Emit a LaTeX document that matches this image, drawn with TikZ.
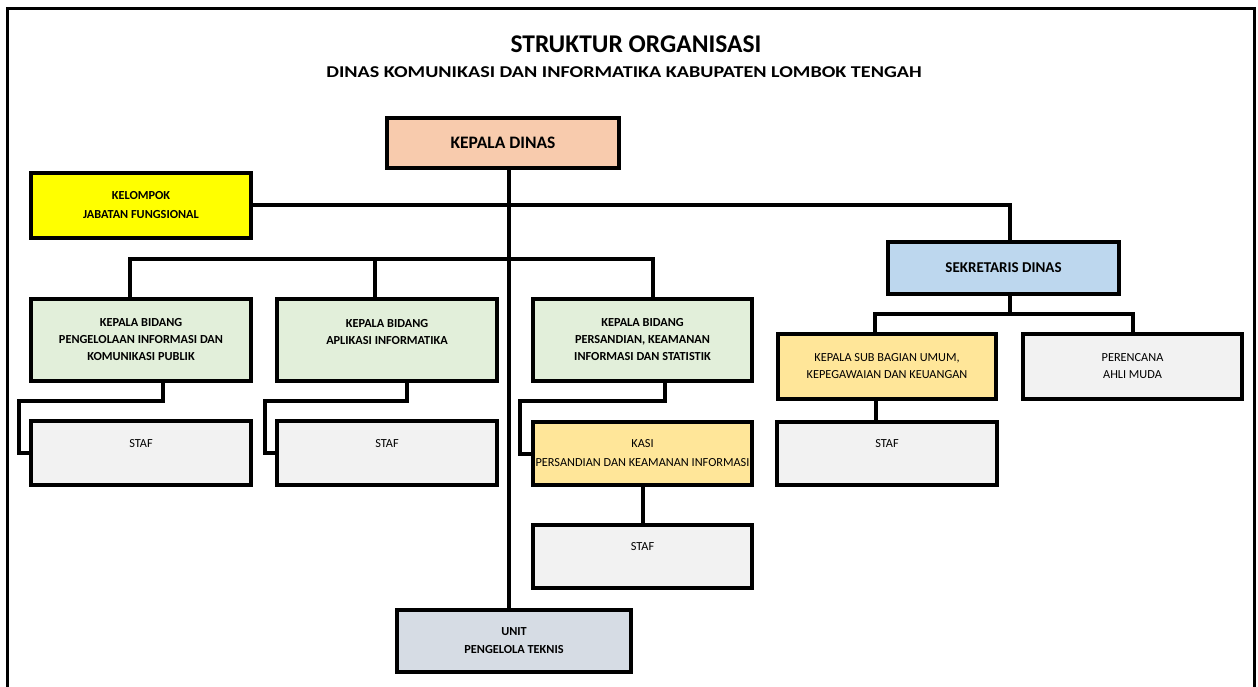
\documentclass[tikz,border=0pt]{standalone}
\usepackage{fontspec}
\setmainfont{Carlito}
\newfontfamily\widefont[FakeStretch=1.22]{Carlito}
\definecolor{kdc}{HTML}{F8CBAD}
\definecolor{kelc}{HTML}{FFFF00}
\definecolor{sekc}{HTML}{BDD7EE}
\definecolor{bidc}{HTML}{E2EFDA}
\definecolor{stfc}{HTML}{F2F2F2}
\definecolor{kasc}{HTML}{FFE699}
\definecolor{unic}{HTML}{D6DCE4}
\begin{document}
\begin{tikzpicture}[x=1pt,y=-1pt,
  bx/.style={draw=black,line width=4pt,inner sep=0pt,align=center,text=black},
  con/.style={draw=black,line width=4pt,line join=miter},
  fb/.style={font=\fontsize{12.3}{#1}\selectfont\bfseries},
  fr/.style={font=\fontsize{12.3}{#1}\selectfont},
  wide/.style={minimum width=220pt},
]
\useasboundingbox (0,0) rectangle (1258,687);
\draw[line width=3pt] (7,700) -- (7,9) -- (1254,9) -- (1254,700);

\node[font=\fontsize{25.5}{28}\selectfont\bfseries] (title) at (636,44) {STRUKTUR ORGANISASI};
\node[font=\widefont\fontsize{16.5}{20}\selectfont\bfseries] (subtitle) at (624,72) {DINAS KOMUNIKASI DAN INFORMATIKA KABUPATEN LOMBOK TENGAH};

\node[bx,fill=kdc,minimum width=232pt,minimum height=50pt,font=\fontsize{17.5}{20}\selectfont\bfseries] (kd) at (503,143) {KEPALA DINAS};
\node[bx,fill=kelc,wide,minimum height=65pt,fb=19] (kel) at (141,205.5) {KELOMPOK\\JABATAN FUNGSIONAL};
\node[bx,fill=sekc,minimum width=231pt,minimum height=52pt,font=\fontsize{15}{18}\selectfont\bfseries] (sek) at (1003.5,268) {SEKRETARIS DINAS};

\node[bx,fill=bidc,wide,minimum height=82pt,fb=17] (b1) at (141,340) {KEPALA BIDANG\\PENGELOLAAN INFORMASI DAN\\KOMUNIKASI PUBLIK};
\node[bx,fill=bidc,wide,minimum height=82pt,fb=17] (b2) at (387,340) {KEPALA BIDANG\\APLIKASI INFORMATIKA\\\mbox{}};
\node[bx,fill=bidc,minimum width=219pt,minimum height=82pt,fb=17] (b3) at (642.5,340) {KEPALA BIDANG\\PERSANDIAN, KEAMANAN\\INFORMASI DAN STATISTIK};

\node[bx,fill=stfc,wide,minimum height=64pt,fr=19] (s1) at (141,453) {STAF\\\mbox{}};
\node[bx,fill=stfc,wide,minimum height=64pt,fr=19] (s2) at (387,453) {STAF\\\mbox{}};
\node[bx,fill=kasc,minimum width=219pt,minimum height=63pt,fr=19] (kasi) at (642.5,453.5) {KASI\\PERSANDIAN DAN KEAMANAN INFORMASI};
\node[bx,fill=stfc,minimum width=219pt,minimum height=63pt,fr=19] (s4) at (642.5,556.5) {STAF\\\mbox{}};

\node[bx,fill=unic,minimum width=234pt,minimum height=62pt,fb=18] (unit) at (514,641) {UNIT\\PENGELOLA TEKNIS};

\node[bx,fill=kasc,minimum width=218pt,minimum height=65pt,fr=17] (sub) at (887,366.5) {KEPALA SUB BAGIAN UMUM,\\KEPEGAWAIAN DAN KEUANGAN};
\node[bx,fill=stfc,minimum width=219pt,minimum height=65pt,fr=17] (per) at (1132.5,366.5) {PERENCANA\\AHLI MUDA};
\node[bx,fill=stfc,wide,minimum height=63pt,fr=19] (s3) at (887,453.5) {STAF\\\mbox{}};

% trunk
\draw[con] ([xshift=6pt]kd.south) -- ([xshift=6pt]kd.south |- unit.north);
% kelompok to sekretaris
\draw[con] (kel.east) -| ([xshift=6.5pt]sek.north);
% bidang bus
\draw[con] ([xshift=-11pt]b1.north) -- ++(0,-38) -| ([xshift=10.5pt]b3.north);
\draw[con] ([xshift=-12pt]b2.north) -- ++(0,-38);
% bidang to staf
\draw[con] ([xshift=22pt]b1.south) -- ++(0,18) -| ([xshift=-10pt]s1.west) -- (s1.west);
\draw[con] ([xshift=20pt]b2.south) -- ++(0,18) -| ([xshift=-10pt]s2.west) -- (s2.west);
\draw[con] ([xshift=22.5pt]b3.south) -- ++(0,18) -| ([xshift=-11pt]kasi.west) -- (kasi.west);
\draw[con] (kasi.south) -- (s4.north);
% sekretaris
\draw[con] ([xshift=6.5pt]sek.south) -- ++(0,18);
\draw[con] ([xshift=-12pt]sub.north) |- ([yshift=18pt]per.north) -- (per.north);
\draw[con] ([xshift=-11pt]sub.south) -- ([xshift=-11pt]sub.south |- s3.north);
\end{tikzpicture}
\end{document}
